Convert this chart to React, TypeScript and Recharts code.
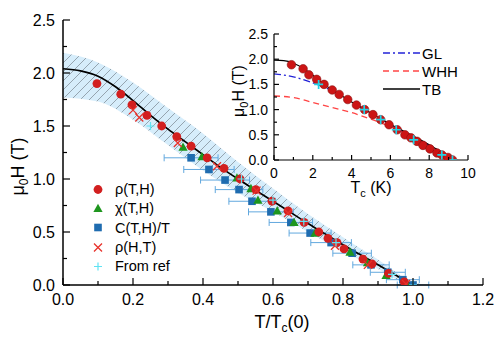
import React from "react";
import {
  ComposedChart,
  Area,
  Line,
  Scatter,
  XAxis,
  YAxis,
  ErrorBar,
  Legend,
  CartesianGrid,
  Label,
} from "recharts";

const FONT = "'Liberation Sans', Arial, Helvetica, sans-serif";

// ---- main panel: mu0H vs T/Tc(0) ----
const RHO_TH_X = [0.097, 0.165, 0.197, 0.24, 0.282, 0.325, 0.366, 0.412, 0.46, 0.506, 0.551, 0.597, 0.643, 0.689, 0.731, 0.757, 0.783, 0.803, 0.857, 0.883, 0.93, 0.975];
const RHO_TH_Y = [1.9, 1.8, 1.7, 1.6, 1.5, 1.4, 1.31, 1.2, 1.1, 1.0, 0.9, 0.79, 0.7, 0.59, 0.5, 0.44, 0.4, 0.34, 0.245, 0.2, 0.11, 0.03];

const CHI_X = [0.343, 0.397, 0.497, 0.537, 0.557, 0.612, 0.66, 0.72, 0.82, 0.87, 0.923, 0.98];
const CHI_Y = [1.3, 1.21, 1.01, 0.91, 0.8, 0.7, 0.59, 0.49, 0.31, 0.21, 0.09, 0.02];

const CP_X = [0.366, 0.417, 0.463, 0.503, 0.54, 0.594, 0.651, 0.706, 0.766, 0.826, 0.88, 0.928, 0.971, 1.0];
const CP_Y = [1.2, 1.09, 0.99, 0.9, 0.79, 0.69, 0.59, 0.49, 0.4, 0.3, 0.19, 0.12, 0.05, 0.0];
const CP_ERR = [0.077, 0.072, 0.07, 0.068, 0.066, 0.064, 0.062, 0.06, 0.058, 0.055, 0.052, 0.05, 0.047, 0.045];

const RHO_HT_X = [0.2, 0.218, 0.328, 0.44, 0.553, 0.643, 0.777, 0.871, 0.98];
const RHO_HT_Y = [1.65, 1.58, 1.34, 1.12, 0.89, 0.68, 0.37, 0.19, 0.01];

const REF_X = [0.25, 0.51, 0.6, 0.688, 0.78, 0.94, 1.0];
const REF_Y = [1.5, 1.0, 0.8, 0.6, 0.4, 0.1, 0.0];

const TB_X = [0, 0.05, 0.1, 0.15, 0.2, 0.25, 0.3, 0.35, 0.4, 0.45, 0.5, 0.55, 0.6, 0.65, 0.7, 0.75, 0.8, 0.85, 0.9, 0.95, 1.0];
const TB_Y = [2.04, 2.02, 1.97, 1.87, 1.74, 1.6, 1.47, 1.35, 1.23, 1.11, 1.0, 0.895, 0.79, 0.685, 0.58, 0.48, 0.38, 0.285, 0.19, 0.095, 0];

const BAND_X = [0, 0.1, 0.2, 0.3, 0.4, 0.5, 0.6, 0.7, 0.8, 0.9, 1.0, 1.03];
const BAND_HI = [2.19, 2.1, 1.91, 1.67, 1.43, 1.16, 0.91, 0.67, 0.45, 0.24, 0.03, 0];
const BAND_LO = [1.77, 1.73, 1.56, 1.32, 1.08, 0.87, 0.69, 0.5, 0.32, 0.15, 0, 0];

const MAIN_X_TICKS = [0, 0.1, 0.2, 0.3, 0.4, 0.5, 0.6, 0.7, 0.8, 0.9, 1.0, 1.1, 1.2];
const MAIN_Y_TICKS = [0, 0.25, 0.5, 0.75, 1.0, 1.25, 1.5, 1.75, 2.0, 2.25, 2.5];

// ---- inset: mu0H vs Tc (K) ----
const IN_RHO_X = [0.9, 1.5, 1.8, 2.2, 2.58, 3.0, 3.36, 3.8, 4.25, 4.67, 5.1, 5.5, 5.93, 6.35, 6.75, 7.06, 7.37, 7.68, 8.04, 8.4, 8.66, 8.97, 9.2];
const IN_RHO_Y = [1.89, 1.81, 1.69, 1.6, 1.5, 1.39, 1.3, 1.2, 1.09, 1.0, 0.9, 0.8, 0.7, 0.6, 0.5, 0.44, 0.37, 0.29, 0.22, 0.14, 0.1, 0.05, 0.0];

const IN_REF_X = [2.3, 4.65, 5.5, 6.3, 7.2, 8.65, 9.2];
const IN_REF_Y = [1.5, 1.0, 0.8, 0.6, 0.4, 0.1, 0.0];

const IN_TB_X = [0, 0.5, 1, 1.5, 2, 2.5, 3, 3.5, 4, 4.5, 5, 5.5, 6, 6.5, 7, 7.5, 8, 8.5, 9, 9.2];
const IN_TB_Y = [1.98, 1.97, 1.92, 1.82, 1.68, 1.53, 1.39, 1.27, 1.15, 1.04, 0.93, 0.82, 0.71, 0.61, 0.51, 0.41, 0.3, 0.19, 0.07, 0];

const GL_X = [0, 1, 2, 3, 4, 5, 6, 7, 8, 9, 9.2];
const GL_Y = [1.71, 1.65, 1.53, 1.38, 1.16, 0.93, 0.7, 0.5, 0.29, 0.06, 0];

const WHH_X = [0, 1, 2, 3, 4, 5, 6, 7, 8, 9, 9.2];
const WHH_Y = [1.27, 1.24, 1.14, 1.04, 0.94, 0.81, 0.66, 0.49, 0.29, 0.06, 0];

const IN_X_TICKS = [0, 1, 2, 3, 4, 5, 6, 7, 8, 9, 10];
const IN_Y_TICKS = [0, 0.25, 0.5, 0.75, 1.0, 1.25, 1.5, 1.75, 2.0, 2.25, 2.5];

const RED = "#d21f1f";
const GREEN = "#1e961e";
const BLUE = "#1f6cb0";
const XRED = "#e8312a";
const CYAN = "#5fe3f3";
const ERRC = "#62a8de";

const pts = (xs: number[], ys: number[]) => xs.map((x, i) => ({ x, y: ys[i] }));

const rhoTH = pts(RHO_TH_X, RHO_TH_Y);
const chi = pts(CHI_X, CHI_Y);
const cp = CP_X.map((x, i) => ({ x, y: CP_Y[i], err: CP_ERR[i] }));
const rhoHT = pts(RHO_HT_X, RHO_HT_Y);
const ref = pts(REF_X, REF_Y);
const tb = pts(TB_X, TB_Y);
const band = BAND_X.map((x, i) => ({ x, range: [BAND_LO[i], BAND_HI[i]] }));

const inRho = pts(IN_RHO_X, IN_RHO_Y);
const inRef = pts(IN_REF_X, IN_REF_Y);
const inTb = pts(IN_TB_X, IN_TB_Y);
const gl = pts(GL_X, GL_Y);
const whh = pts(WHH_X, WHH_Y);

type Kind = "circle" | "tri" | "square" | "cross" | "plus" | "bigcircle" | "bigplus";

function marker(kind: Kind, cx: number, cy: number) {
  switch (kind) {
    case "circle":
      return <circle cx={cx} cy={cy} r={4.4} fill={RED} />;
    case "bigcircle":
      return <circle cx={cx} cy={cy} r={4.3} fill="#cc1515" stroke="#8a1010" strokeWidth={0.6} />;
    case "tri":
      return (
        <polygon
          points={`${cx},${cy - 4.8} ${cx + 4.6},${cy + 3.6} ${cx - 4.6},${cy + 3.6}`}
          fill={GREEN}
        />
      );
    case "square":
      return <rect x={cx - 3.8} y={cy - 3.8} width={7.6} height={7.6} fill={BLUE} />;
    case "cross":
      return (
        <path
          d={`M${cx - 4},${cy - 4}L${cx + 4},${cy + 4}M${cx - 4},${cy + 4}L${cx + 4},${cy - 4}`}
          stroke={XRED}
          strokeWidth={1.3}
        />
      );
    case "plus":
      return (
        <path
          d={`M${cx - 4},${cy}L${cx + 4},${cy}M${cx},${cy - 4}L${cx},${cy + 4}`}
          stroke={CYAN}
          strokeWidth={1.2}
        />
      );
    case "bigplus":
      return (
        <path
          d={`M${cx - 4.5},${cy}L${cx + 4.5},${cy}M${cx},${cy - 4.5}L${cx},${cy + 4.5}`}
          stroke="#22d3e6"
          strokeWidth={1.7}
        />
      );
  }
}

const shape = (kind: Kind) => (p: any) => marker(kind, p.cx, p.cy);

type Side = "bottom" | "top" | "left" | "right";
interface TickCfg {
  side: Side;
  isMajor: (v: number) => boolean;
  major: number;
  minor: number;
  fmt?: (v: number) => string;
  fontSize?: number;
  gap?: number;
}

// inward ticks, labels only on the major ones
const makeTick = (cfg: TickCfg) => (props: any) => {
  const { x, y, payload } = props;
  const v = payload.value as number;
  const big = cfg.isMajor(v);
  const len = big ? cfg.major : cfg.minor;
  let x2 = x;
  let y2 = y;
  if (cfg.side === "bottom") y2 = y - len;
  if (cfg.side === "top") y2 = y + len;
  if (cfg.side === "left") x2 = x + len;
  if (cfg.side === "right") x2 = x - len;
  const gap = cfg.gap ?? 0;
  const show = big && cfg.fmt;
  return (
    <g>
      <line x1={x} y1={y} x2={x2} y2={y2} stroke="#000" strokeWidth={1.2} />
      {show && cfg.side === "bottom" && (
        <text x={x} y={y + gap} textAnchor="middle" fontFamily={FONT} fontSize={cfg.fontSize} fill="#000">
          {cfg.fmt!(v)}
        </text>
      )}
      {show && cfg.side === "left" && (
        <text x={x - gap} y={y} dy="0.36em" textAnchor="end" fontFamily={FONT} fontSize={cfg.fontSize} fill="#000">
          {cfg.fmt!(v)}
        </text>
      )}
    </g>
  );
};

const even10 = (v: number) => Math.round(v * 10) % 2 === 0;
const even4 = (v: number) => Math.round(v * 4) % 2 === 0;
const even1 = (v: number) => Math.round(v) % 2 === 0;

const MAIN_KEYS: { label: string; kind: Kind }[] = [
  { label: "ρ(T,H)", kind: "circle" },
  { label: "χ(T,H)", kind: "tri" },
  { label: "C(T,H)/T", kind: "square" },
  { label: "ρ(H,T)", kind: "cross" },
  { label: "From ref", kind: "plus" },
];

const INSET_KEYS: { label: string; stroke: string; dash?: string }[] = [
  { label: "GL", stroke: "#2323d8", dash: "7 3 2 3" },
  { label: "WHH", stroke: "#ff4545", dash: "6 4" },
  { label: "TB", stroke: "#000" },
];

function MainLegend() {
  return (
    <div style={{ fontFamily: FONT, fontSize: 14.5, color: "#000" }}>
      {MAIN_KEYS.map((k) => (
        <div key={k.label} style={{ display: "flex", alignItems: "center", height: 19.3 }}>
          <svg width={16} height={19} style={{ marginRight: 9 }}>
            {marker(k.kind, 8, 9.5)}
          </svg>
          <span>{k.label}</span>
        </div>
      ))}
    </div>
  );
}

function InsetLegend() {
  return (
    <div style={{ fontFamily: FONT, fontSize: 15, color: "#000" }}>
      {INSET_KEYS.map((k) => (
        <div key={k.label} style={{ display: "flex", alignItems: "center", height: 18 }}>
          <svg width={37} height={18} style={{ marginRight: 2 }}>
            <line x1={0} x2={37} y1={9} y2={9} stroke={k.stroke} strokeWidth={1.3} strokeDasharray={k.dash} />
          </svg>
          <span>{k.label}</span>
        </div>
      ))}
    </div>
  );
}

const axisLine = { stroke: "#000", strokeWidth: 1.5 };

function MainChart() {
  return (
    <ComposedChart width={498} height={339} margin={{ top: 20, right: 15, bottom: 0, left: 0 }}>
      <defs>
        <pattern id="hatch" width="9" height="9" patternUnits="userSpaceOnUse">
          <rect width="9" height="9" fill="#d6edfb" />
          <path d="M0,9 L9,0 M-2,2 L2,-2 M7,11 L11,7" stroke="#7f8c96" strokeWidth="0.75" />
        </pattern>
      </defs>
      <XAxis
        xAxisId={0}
        dataKey="x"
        type="number"
        domain={[0, 1.2]}
        allowDataOverflow
        ticks={MAIN_X_TICKS}
        interval={0}
        height={54}
        tickSize={0}
        tickMargin={0}
        axisLine={axisLine}
        tickLine={false}
        tick={makeTick({ side: "bottom", isMajor: even10, major: 7, minor: 4, fmt: (v) => v.toFixed(1), fontSize: 16, gap: 20 })}
      >
        <Label
          content={(p: any) => {
            const vb = p.viewBox;
            return (
              <text x={vb.x + vb.width / 2 + 9} y={vb.y + 43} textAnchor="middle" fontFamily={FONT} fontSize={18} fill="#000">
                T/T<tspan dy={4} fontSize={12}>c</tspan>
                <tspan dy={-4}>(0)</tspan>
              </text>
            );
          }}
        />
      </XAxis>
      <XAxis
        xAxisId="top"
        dataKey="x"
        type="number"
        orientation="top"
        domain={[0, 1.2]}
        allowDataOverflow
        ticks={MAIN_X_TICKS}
        interval={0}
        height={0}
        tickSize={0}
        tickMargin={0}
        axisLine={axisLine}
        tickLine={false}
        tick={makeTick({ side: "top", isMajor: even10, major: 7, minor: 4 })}
      />
      <YAxis
        yAxisId={0}
        dataKey="y"
        type="number"
        domain={[0, 2.5]}
        allowDataOverflow
        ticks={MAIN_Y_TICKS}
        interval={0}
        width={63}
        tickSize={0}
        tickMargin={0}
        axisLine={axisLine}
        tickLine={false}
        tick={makeTick({ side: "left", isMajor: even4, major: 7, minor: 4, fmt: (v) => v.toFixed(1), fontSize: 16, gap: 8 })}
      >
        <Label
          content={(p: any) => {
            const vb = p.viewBox;
            const cx = vb.x + 24;
            const cy = vb.y + vb.height / 2 + 14;
            return (
              <text transform={`translate(${cx},${cy}) rotate(-90)`} textAnchor="middle" fontFamily={FONT} fontSize={18} fill="#000">
                μ<tspan dy={4} fontSize={12}>0</tspan>
                <tspan dy={-4}>H (T)</tspan>
              </text>
            );
          }}
        />
      </YAxis>
      <YAxis
        yAxisId="right"
        dataKey="y"
        type="number"
        orientation="right"
        domain={[0, 2.5]}
        allowDataOverflow
        ticks={MAIN_Y_TICKS}
        interval={0}
        width={0}
        tickSize={0}
        tickMargin={0}
        axisLine={axisLine}
        tickLine={false}
        tick={makeTick({ side: "right", isMajor: even4, major: 7, minor: 4 })}
      />

      <Area
        data={band}
        dataKey="range"
        type="monotone"
        fill="url(#hatch)"
        fillOpacity={1}
        stroke="none"
        isAnimationActive={false}
      />
      <Scatter data={cp} dataKey="y" shape={shape("square")} isAnimationActive={false}>
        <ErrorBar dataKey="err" direction="x" width={3.5} stroke={ERRC} strokeWidth={1} />
      </Scatter>
      <Scatter data={chi} dataKey="y" shape={shape("tri")} isAnimationActive={false} />
      <Scatter data={rhoTH} dataKey="y" shape={shape("circle")} isAnimationActive={false} />
      <Scatter data={rhoHT} dataKey="y" shape={shape("cross")} isAnimationActive={false} />
      <Scatter data={ref} dataKey="y" shape={shape("plus")} isAnimationActive={false} />
      <Line data={tb} dataKey="y" type="monotone" stroke="#000" strokeWidth={1.7} dot={false} isAnimationActive={false} />

      <Legend
        layout="vertical"
        align="center"
        verticalAlign="middle"
        content={() => <MainLegend />}
        wrapperStyle={{ left: 90, top: 179.5, width: "auto", height: "auto" }}
      />
    </ComposedChart>
  );
}

function InsetChart() {
  return (
    <ComposedChart width={265} height={175} margin={{ top: 9, right: 17, bottom: 0, left: 0 }}>
      <CartesianGrid horizontal={false} vertical={false} fill="#fff" fillOpacity={1} />
      <XAxis
        xAxisId={0}
        dataKey="x"
        type="number"
        domain={[0, 10]}
        allowDataOverflow
        ticks={IN_X_TICKS}
        interval={0}
        height={40}
        tickSize={0}
        tickMargin={0}
        axisLine={{ stroke: "#000", strokeWidth: 1.2 }}
        tickLine={false}
        tick={makeTick({ side: "bottom", isMajor: even1, major: 5, minor: 3, fmt: (v) => String(v), fontSize: 14, gap: 18 })}
      >
        <Label
          content={(p: any) => {
            const vb = p.viewBox;
            return (
              <text x={vb.x + vb.width / 2} y={vb.y + 33} textAnchor="middle" fontFamily={FONT} fontSize={16} fill="#000">
                T<tspan dy={4} fontSize={11}>c</tspan>
                <tspan dy={-4}> (K)</tspan>
              </text>
            );
          }}
        />
      </XAxis>
      <XAxis
        xAxisId="top"
        dataKey="x"
        type="number"
        orientation="top"
        domain={[0, 10]}
        allowDataOverflow
        ticks={IN_X_TICKS}
        interval={0}
        height={0}
        tickSize={0}
        tickMargin={0}
        axisLine={{ stroke: "#000", strokeWidth: 1.2 }}
        tickLine={false}
        tick={makeTick({ side: "top", isMajor: even1, major: 5, minor: 3 })}
      />
      <YAxis
        yAxisId={0}
        dataKey="y"
        type="number"
        domain={[0, 2.5]}
        allowDataOverflow
        ticks={IN_Y_TICKS}
        interval={0}
        width={54}
        tickSize={0}
        tickMargin={0}
        axisLine={{ stroke: "#000", strokeWidth: 1.2 }}
        tickLine={false}
        tick={makeTick({ side: "left", isMajor: even4, major: 5, minor: 3, fmt: (v) => v.toFixed(1), fontSize: 14, gap: 6 })}
      >
        <Label
          content={(p: any) => {
            const vb = p.viewBox;
            const cx = vb.x + 24;
            const cy = vb.y + vb.height / 2 - 6;
            return (
              <text transform={`translate(${cx},${cy}) rotate(-90)`} textAnchor="middle" fontFamily={FONT} fontSize={16} fill="#000">
                μ<tspan dy={4} fontSize={11}>0</tspan>
                <tspan dy={-4}>H (T)</tspan>
              </text>
            );
          }}
        />
      </YAxis>
      <YAxis
        yAxisId="right"
        dataKey="y"
        type="number"
        orientation="right"
        domain={[0, 2.5]}
        allowDataOverflow
        ticks={IN_Y_TICKS}
        interval={0}
        width={0}
        tickSize={0}
        tickMargin={0}
        axisLine={{ stroke: "#000", strokeWidth: 1.2 }}
        tickLine={false}
        tick={makeTick({ side: "right", isMajor: even4, major: 5, minor: 3 })}
      />

      <Line data={whh} dataKey="y" type="monotone" stroke="#ff4545" strokeWidth={1.3} strokeDasharray="6 4" dot={false} isAnimationActive={false} />
      <Line data={gl} dataKey="y" type="monotone" stroke="#2323d8" strokeWidth={1.3} strokeDasharray="7 3 2 3" dot={false} isAnimationActive={false} />
      <Scatter data={inRho} dataKey="y" shape={shape("bigcircle")} isAnimationActive={false} />
      <Scatter data={inRef} dataKey="y" shape={shape("bigplus")} isAnimationActive={false} />
      <Line data={inTb} dataKey="y" type="monotone" stroke="#000" strokeWidth={1.2} dot={false} isAnimationActive={false} />

      <Legend
        layout="vertical"
        align="center"
        verticalAlign="middle"
        content={() => <InsetLegend />}
        wrapperStyle={{ left: 163, top: 19, width: "auto", height: "auto" }}
      />
    </ComposedChart>
  );
}

export default function App() {
  return (
    <div style={{ position: "absolute", left: 0, top: 0, width: 498, height: 339, background: "#fff" }}>
      <MainChart />
      <div style={{ position: "absolute", left: 220, top: 25 }}>
        <InsetChart />
      </div>
    </div>
  );
}
